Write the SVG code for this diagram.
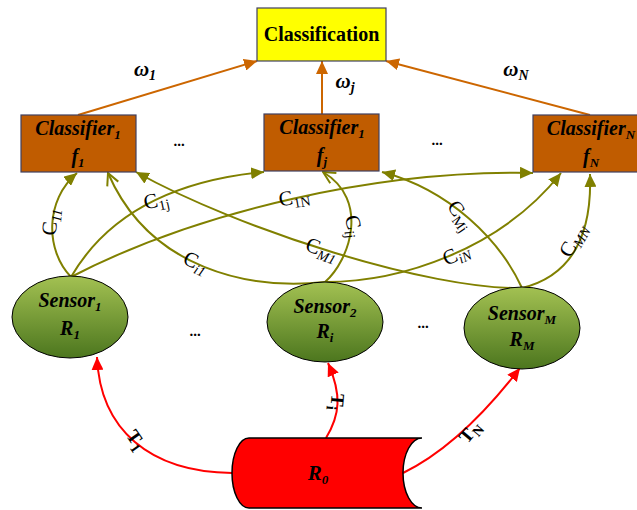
<svg xmlns="http://www.w3.org/2000/svg" width="637" height="510" viewBox="0 0 637 510">
<style>
.t{font-family:"Liberation Serif","Times New Roman",serif;fill:#000}
.bi{font-weight:bold;font-style:italic}
.lbl{font-size:21px}
.sub{font-size:13px}
.lsub{font-size:14px}
.ol{fill:none;stroke:#808000;stroke-width:2}
.or{fill:none;stroke:#CC6600;stroke-width:2}
.rd{fill:none;stroke:#FF0000;stroke-width:2}
.box{fill:#C05C00;stroke:#404060;stroke-width:1.2}
.sens{fill:url(#g);stroke:#000;stroke-width:1}
</style>
<defs>
<linearGradient id="g" x1="0" y1="0" x2="0" y2="1">
<stop offset="0" stop-color="#A3C152"/>
<stop offset="1" stop-color="#4C761E"/>
</linearGradient>
<marker id="ao" markerUnits="userSpaceOnUse" markerWidth="14" markerHeight="12" refX="13" refY="6" orient="auto"><path d="M0,0 L13,6 L0,12 z" fill="#808000"/></marker>
<marker id="av" markerUnits="userSpaceOnUse" markerWidth="14" markerHeight="14" refX="13" refY="7" orient="auto"><path d="M1,1 L13,7 L1,13" fill="none" stroke="#808000" stroke-width="2"/></marker>
<marker id="ar" markerUnits="userSpaceOnUse" markerWidth="14" markerHeight="12" refX="13" refY="6" orient="auto"><path d="M0,0 L13,6 L0,12 z" fill="#CC6600"/></marker>
<marker id="ad" markerUnits="userSpaceOnUse" markerWidth="14" markerHeight="12" refX="13" refY="6" orient="auto"><path d="M0,0 L13,6 L0,12 z" fill="#FF0000"/></marker>
</defs>

<g id="connectors">
<path class="or" d="M78 115 L257 61" marker-end="url(#ar)"/>
<path class="or" d="M322 114 L322 61" marker-end="url(#ar)"/>
<path class="or" d="M590 115 L386 61" marker-end="url(#ar)"/>

<path class="ol" d="M71 277 C45 250 45 200 77 173" marker-end="url(#ao)"/>
<path class="ol" d="M71 277 C110 210 180 180 264 172" marker-end="url(#ao)"/>
<path class="ol" d="M71 277 C200 210 380 170 533 173" marker-end="url(#ao)"/>
<path class="ol" d="M325 282 C250 290 150 270 108 173" marker-end="url(#av)"/>
<path class="ol" d="M325 282 C350 260 370 200 323 172" marker-end="url(#av)"/>
<path class="ol" d="M325 282 C400 282 500 250 561 173" marker-end="url(#ao)"/>
<path class="ol" d="M522 288 C430 290 240 230 136 172" marker-end="url(#ao)"/>
<path class="ol" d="M522 288 C500 240 450 190 382 172" marker-end="url(#ao)"/>
<path class="ol" d="M522 288 C575 275 592 230 590 174" marker-end="url(#ao)"/>

<path class="rd" d="M232 473 C150 472 100 430 97 357" marker-end="url(#ad)"/>
<path class="rd" d="M326 438 C340 415 342 395 328 363" marker-end="url(#ad)"/>
<path class="rd" d="M403 473 C440 455 480 420 520 368" marker-end="url(#ad)"/>

<text class="t bi" font-size="21" x="145" y="76" text-anchor="middle">ω<tspan class="lsub" dy="4">1</tspan></text>
<text class="t bi" font-size="21" x="345" y="88" text-anchor="middle">ω<tspan class="lsub" dy="4">j</tspan></text>
<text class="t bi" font-size="21" x="516" y="76" text-anchor="middle">ω<tspan class="lsub" dy="4">N</tspan></text>

<g class="t lbl">
<text transform="translate(50,222) rotate(-85)" y="7" text-anchor="middle">C<tspan class="lsub" font-style="italic" dy="4">11</tspan></text>
<text transform="translate(156,200) rotate(-12)" y="7" text-anchor="middle">C<tspan class="lsub" dy="4">1j</tspan></text>
<text transform="translate(294,197) rotate(-10)" y="7" text-anchor="middle">C<tspan class="lsub" dy="4">1N</tspan></text>
<text transform="translate(196,262) rotate(25)" y="7" text-anchor="middle">C<tspan class="lsub" font-style="italic" dy="4">i1</tspan></text>
<text transform="translate(354,226) rotate(75)" y="7" text-anchor="middle">C<tspan class="lsub" font-style="italic" dy="4">ij</tspan></text>
<text transform="translate(456,254) rotate(-25)" y="7" text-anchor="middle">C<tspan class="lsub" font-style="italic" dy="4">iN</tspan></text>
<text transform="translate(322,249) rotate(20)" y="7" text-anchor="middle">C<tspan class="lsub" font-style="italic" dy="4">M1</tspan></text>
<text transform="translate(461,215) rotate(55)" y="7" text-anchor="middle">C<tspan class="lsub" dy="4">Mj</tspan></text>
<text transform="translate(573,240) rotate(-60)" y="7" text-anchor="middle">C<tspan class="lsub" font-style="italic" dy="4">MN</tspan></text>
</g>

<g class="t" font-weight="bold" font-size="19">
<text transform="translate(136,440) rotate(55)" y="6" text-anchor="middle">T<tspan class="lsub" dy="4">1</tspan></text>
<text transform="translate(337,402) rotate(95)" y="6" text-anchor="middle">T<tspan class="lsub" dy="4">i</tspan></text>
<text transform="translate(470,432) rotate(-50)" y="6" text-anchor="middle">T<tspan class="lsub" dy="4">N</tspan></text>
</g>
</g>

<g class="t" font-weight="bold" font-size="15" text-anchor="middle">
<text x="179" y="146">...</text>
<text x="437" y="145">...</text>
<text x="195" y="336">...</text>
<text x="423" y="328">...</text>
</g>

<g id="classification">
<rect x="257" y="8" width="129" height="53" fill="#FFFF00" stroke="#404060" stroke-width="1.2"/>
<text class="t" font-weight="bold" font-size="20" x="321.5" y="41" text-anchor="middle">Classification</text>
</g>

<g id="classifier1">
<rect class="box" x="21" y="115" width="115" height="57"/>
<text class="t bi" font-size="20" x="78" y="135" text-anchor="middle">Classifier<tspan class="sub" dy="4">1</tspan></text>
<text class="t bi" font-size="20" x="78" y="163" text-anchor="middle">f<tspan class="sub" dy="4">1</tspan></text>
</g>

<g id="classifierj">
<rect class="box" x="264" y="114" width="115" height="57"/>
<text class="t bi" font-size="20" x="322" y="134" text-anchor="middle">Classifier<tspan class="sub" dy="4">1</tspan></text>
<text class="t bi" font-size="20" x="322" y="162" text-anchor="middle">f<tspan class="sub" dy="4">j</tspan></text>
</g>

<g id="classifierN">
<rect class="box" x="533" y="115" width="115" height="57"/>
<text class="t bi" font-size="20" x="591" y="135" text-anchor="middle">Classifier<tspan class="sub" dy="4">N</tspan></text>
<text class="t bi" font-size="20" x="591" y="163" text-anchor="middle">f<tspan class="sub" dy="4">N</tspan></text>
</g>

<g id="sensor1">
<ellipse class="sens" cx="70" cy="317" rx="58" ry="41"/>
<text class="t bi" font-size="20" x="70" y="307" text-anchor="middle">Sensor<tspan class="sub" dy="4">1</tspan></text>
<text class="t bi" font-size="20" x="70" y="335" text-anchor="middle">R<tspan class="sub" dy="4">1</tspan></text>
</g>

<g id="sensor2">
<ellipse class="sens" cx="325" cy="322" rx="58" ry="40"/>
<text class="t bi" font-size="20" x="325" y="313" text-anchor="middle">Sensor<tspan class="sub" dy="4">2</tspan></text>
<text class="t bi" font-size="20" x="325" y="338" text-anchor="middle">R<tspan class="sub" dy="4">i</tspan></text>
</g>

<g id="sensorM">
<ellipse class="sens" cx="522" cy="328" rx="58" ry="41"/>
<text class="t bi" font-size="20" x="522" y="320" text-anchor="middle">Sensor<tspan class="sub" dy="4">M</tspan></text>
<text class="t bi" font-size="20" x="522" y="346" text-anchor="middle">R<tspan class="sub" dy="4">M</tspan></text>
</g>

<g id="r0">
<path d="M249 438 L422 438 A19 35 0 0 0 422 508 L249 508 A17 35 0 0 1 249 438 Z" fill="#FF0000" stroke="#000" stroke-width="1.5"/>
<text class="t bi" font-size="21" x="318" y="480" text-anchor="middle">R<tspan class="sub" dy="4">0</tspan></text>
</g>
</svg>
